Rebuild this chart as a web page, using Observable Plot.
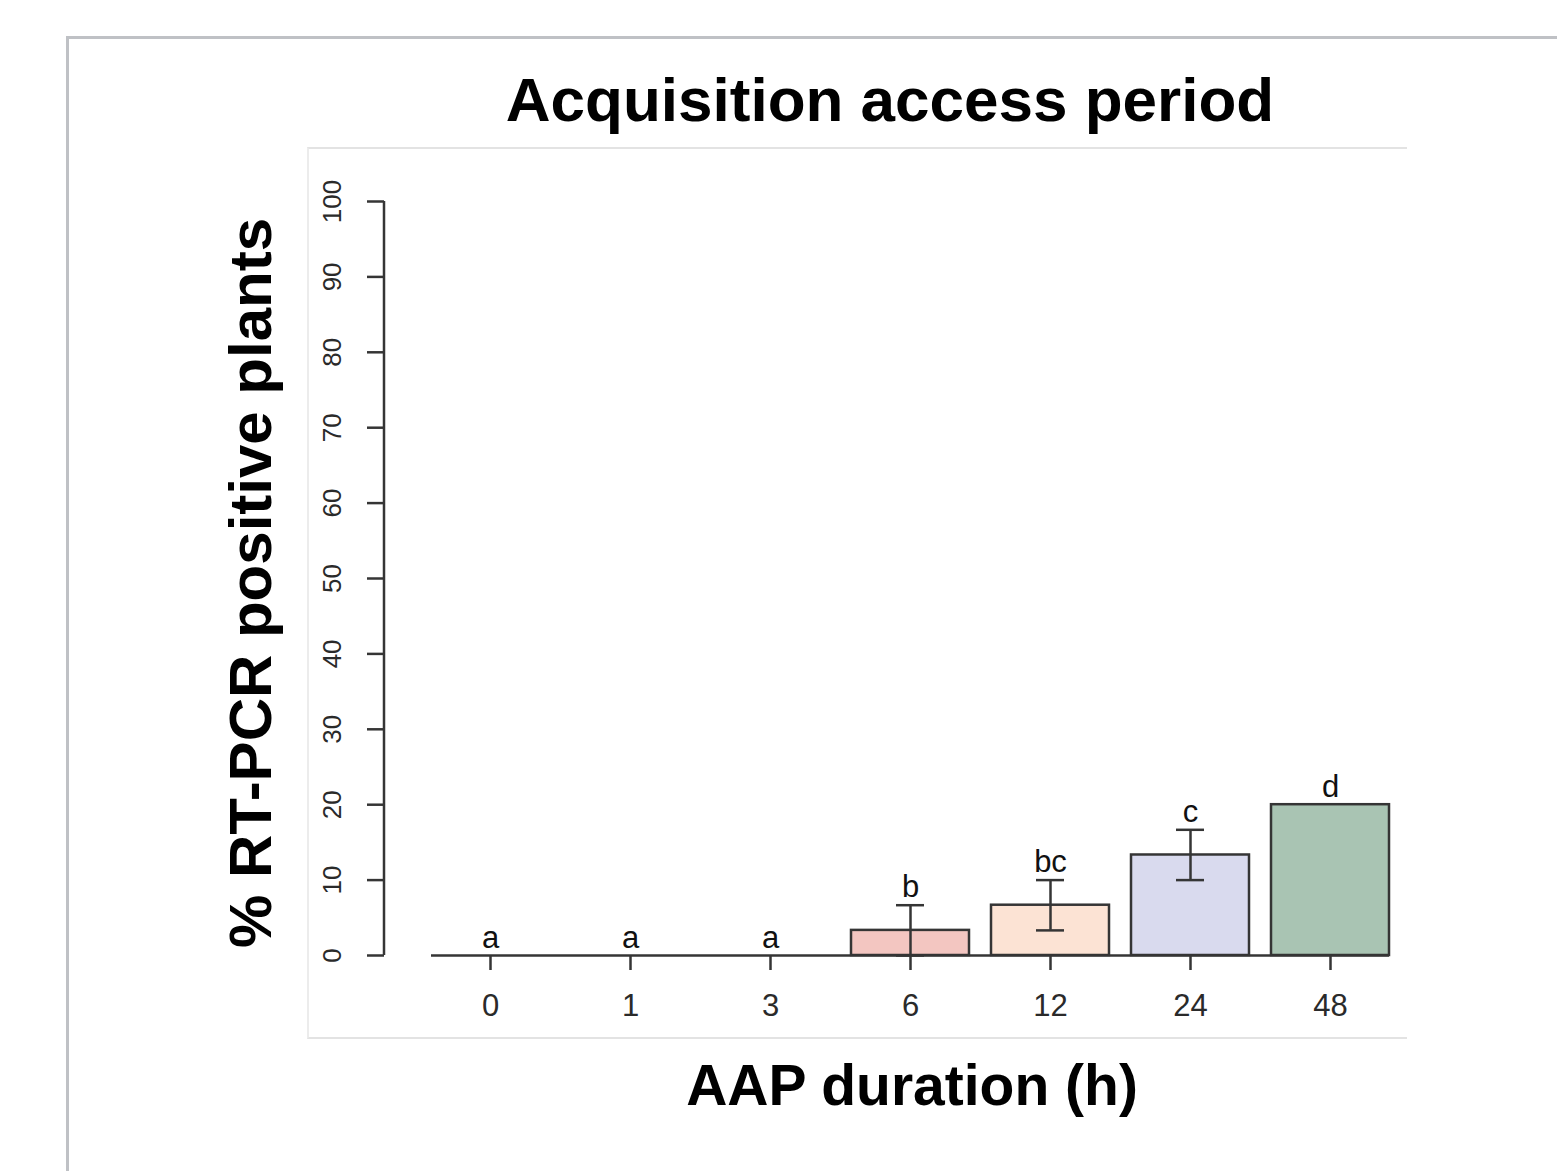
<!DOCTYPE html>
<html>
<head>
<meta charset="utf-8">
<script src="https://cdn.jsdelivr.net/npm/d3@7"></script>
<script src="https://cdn.jsdelivr.net/npm/@observablehq/plot@0.6"></script>
<style>
  body { margin: 0; background: #ffffff; }
  #wrap { position: relative; width: 1557px; height: 1171px; overflow: hidden; font-family: "Liberation Sans", Arial, Helvetica, sans-serif; }
  .frameTop { position: absolute; left: 66px; top: 36px; width: 1491px; height: 3px; background: #bfc1c5; }
  .frameLeft { position: absolute; left: 66px; top: 36px; width: 3px; height: 1135px; background: #bfc1c5; }
  .panel { position: absolute; left: 307px; top: 147px; width: 1100px; height: 892px; border-top: 2px solid #e3e3e3; border-left: 2px solid #ececec; border-bottom: 2px solid #e3e3e3; box-sizing: border-box; }
  #chart { position: absolute; left: 0; top: 0; }
  .title { position: absolute; left: 390px; top: 69px; width: 1000px; text-align: center; font-weight: bold; font-size: 62px; line-height: 62px; color: #000; white-space: nowrap; }
  .xtitle { position: absolute; left: 412px; top: 1057px; width: 1000px; text-align: center; font-weight: bold; font-size: 57px; line-height: 57px; color: #000; white-space: nowrap; }
  .ytitle { position: absolute; left: -199px; top: 553px; width: 900px; height: 60px; text-align: center; font-weight: bold; font-size: 60px; line-height: 60px; color: #000; white-space: nowrap; transform: rotate(-90deg); transform-origin: 50% 50%; }
</style>
</head>
<body>
<div id="wrap">
  <div class="frameTop"></div>
  <div class="frameLeft"></div>
  <div class="panel"></div>
  <div id="chart"></div>
  <div class="title">Acquisition access period</div>
  <div class="ytitle">% RT-PCR positive plants</div>
  <div class="xtitle">AAP duration (h)</div>
</div>
<script>
// ---- data ----
const categories = ["0", "1", "3", "6", "12", "24", "48"];
const percent    = [0, 0, 0, 3.33, 6.67, 13.33, 20];
const errLow     = [null, null, null, 0, 3.33, 10, null];
const errHigh    = [null, null, null, 6.67, 10, 16.67, null];
const letters    = ["a", "a", "a", "b", "bc", "c", "d"];
const barColors  = ["#ffffff", "#ffffff", "#ffffff", "#f3c6c1", "#fce3d4", "#d9daee", "#a9c4b3"];
const yTicks     = [0, 10, 20, 30, 40, 50, 60, 70, 80, 90, 100];

const rows = categories.map((c, i) => ({
  cat: c,
  value: percent[i],
  lo: errLow[i],
  hi: errHigh[i],
  letter: letters[i],
  color: barColors[i],
  top: errHigh[i] != null ? errHigh[i] : percent[i]
}));
const errRows = rows.filter(d => d.lo != null);
const barRows = rows.filter(d => d.value > 0);

const ink = "#353535";

const yAxisLine = (index, scales, values, dimensions) => {
  const g = d3.create("svg:g");
  g.append("line")
    .attr("x1", dimensions.marginLeft).attr("x2", dimensions.marginLeft)
    .attr("y1", scales.y(0)).attr("y2", scales.y(100))
    .attr("stroke", ink).attr("stroke-width", 2.5);
  return g.node();
};

const chart = Plot.plot({
  width: 1557,
  height: 1171,
  marginLeft: 384,
  marginRight: 121,
  marginTop: 201,
  marginBottom: 216,
  style: { background: "transparent", fontFamily: "'Liberation Sans', Arial, Helvetica, sans-serif", color: "#222" },
  x: { type: "band", domain: categories, paddingInner: 0.16, paddingOuter: 0.32, align: 0.5, axis: null },
  y: { domain: [0, 100], axis: null },
  color: { type: "identity" },
  marks: [
    Plot.barY(barRows, { x: "cat", y: "value", fill: "color", stroke: ink, strokeWidth: 2.5 }),
    Plot.ruleY([0], { x1: () => categories[0], x2: () => categories[categories.length - 1], stroke: ink, strokeWidth: 2.5 }),
    Plot.ruleX(errRows, { x: "cat", y1: "lo", y2: "hi", stroke: ink, strokeWidth: 2.5 }),
    Plot.tickY(errRows, { x: "cat", y: "lo", stroke: ink, strokeWidth: 2.5, insetLeft: 45, insetRight: 45 }),
    Plot.tickY(errRows, { x: "cat", y: "hi", stroke: ink, strokeWidth: 2.5, insetLeft: 45, insetRight: 45 }),
    Plot.text(rows, { x: "cat", y: "top", text: "letter", lineAnchor: "bottom", dy: -8, fontSize: 31, fill: "#111" }),
    Plot.axisX({ anchor: "bottom", tickSize: 15, tickPadding: 23, fontSize: 31, stroke: ink, strokeWidth: 2.5, fill: "#2a2a2a", label: null }),
    Plot.axisY({ anchor: "left", ticks: yTicks, tickSize: 17, tickPadding: 27, tickRotate: -90, fontSize: 26, stroke: ink, strokeWidth: 2.5, fill: "#2a2a2a", label: null }),
    yAxisLine
  ]
});
document.getElementById("chart").appendChild(chart);
</script>
</body>
</html>
